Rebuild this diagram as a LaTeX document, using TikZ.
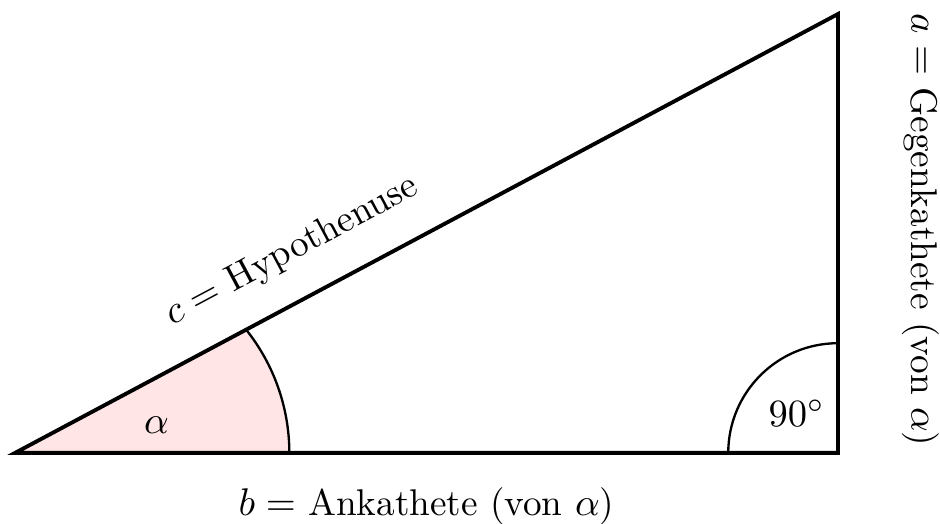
\documentclass[tikz,border=0pt]{standalone}
\usepackage{amsmath}
\usepackage{tikz}
\usetikzlibrary{calc}

\begin{document}
\begin{tikzpicture}[every node/.style={font=\fontsize{9.65}{11.5}\selectfont}]
  \useasboundingbox (-0.137,-0.647) rectangle (8.430,4.128);
  \coordinate (A) at (0,0);
  \coordinate (B) at (7.5,0);
  \coordinate (C) at (7.5,4);
  % angle alpha
  \fill[red!10] (A) -- (2.5,0) arc (0:38.6:1.8) -- cycle;
  \draw[semithick] (2.5,0) arc (0:38.6:1.8);
  % right angle
  \draw[semithick] ($(B)+(-1,0)$) arc (180:90:1);
  \draw[line width=1pt] (A) -- (B) -- (C) -- cycle;
  \node (al) at (1.29,0.255){$\alpha$};
  \node (ra) at (7.124,0.365){$90^\circ$};
  \node[rotate=28.07] (hyp) at (2.524,1.841){$c = $ Hypothenuse};
  \node (an) at (3.75,-0.483){$b = $ Ankathete (von $\alpha$)};
  \node[rotate=-90] (ge) at (8.257,2.03){$a = $ Gegenkathete (von $\alpha$)};
\end{tikzpicture}
\end{document}
